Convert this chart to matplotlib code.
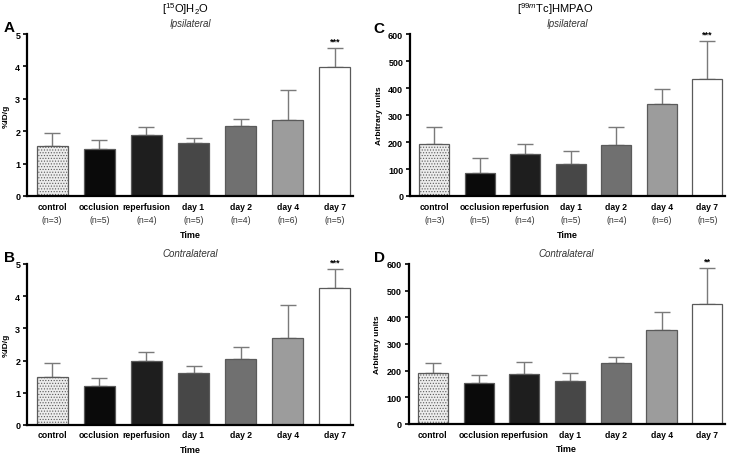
import matplotlib
matplotlib.use("Agg")
import matplotlib.pyplot as plt
from matplotlib import transforms

plt.rcParams['font.family'] = ['Liberation Sans', 'DejaVu Sans']
plt.rcParams['mathtext.fontset'] = 'custom'
plt.rcParams['mathtext.rm'] = 'Liberation Sans'
plt.rcParams['mathtext.it'] = 'Liberation Sans:italic'
plt.rcParams['hatch.color'] = '#a8a8a8'
plt.rcParams['hatch.linewidth'] = 0.5

categories = ['control', 'occlusion', 'reperfusion', 'day 1', 'day 2', 'day 4', 'day 7']
n_labels = ['(n=3)', '(n=5)', '(n=4)', '(n=5)', '(n=4)', '(n=6)', '(n=5)']

# means and SD (upper error only)
water_ipsi = [1.53, 1.45, 1.89, 1.63, 2.16, 2.35, 3.99]
water_ipsi_err = [0.43, 0.28, 0.25, 0.15, 0.23, 0.91, 0.58]
water_contra = [1.48, 1.21, 1.99, 1.62, 2.05, 2.70, 4.25]
water_contra_err = [0.43, 0.25, 0.28, 0.22, 0.38, 1.03, 0.60]
hmpao_ipsi = [193, 84, 156, 118, 188, 342, 434]
hmpao_ipsi_err = [64, 55, 36, 47, 68, 54, 141]
hmpao_contra = [192, 152, 188, 163, 229, 352, 450]
hmpao_contra_err = [36, 30, 45, 29, 23, 68, 135]

bar_colors = ['#ececec', '#0a0a0a', '#1e1e1e', '#474747', '#707070', '#9c9c9c', '#ffffff']
hatches = ['......', '', '', '', '', '', '']


def draw_panel(ax, vals, errs, ymax, ystep, ylabel, side, stars, show_n):
    x = list(range(len(categories)))
    bars = ax.bar(x, vals, width=0.66, color=bar_colors, edgecolor='#5a5a5a', linewidth=0.9, zorder=2)
    for b, h in zip(bars, hatches):
        b.set_hatch(h)
    ax.errorbar(x, vals, yerr=[[0] * len(vals), errs], fmt='none', ecolor='#7a7a7a',
                elinewidth=1.0, capsize=6, capthick=1.0, zorder=1)
    ax.set_xlim(-0.53, 6.38)
    ax.set_ylim(0, ymax)
    ax.set_yticks([i * ystep for i in range(int(ymax / ystep) + 1)])
    for s in ['top', 'right']:
        ax.spines[s].set_visible(False)
    for s in ['left', 'bottom']:
        ax.spines[s].set_linewidth(1.6)
    ax.tick_params(axis='y', labelsize=6.5, width=1.2, length=3, pad=2)
    ax.tick_params(axis='x', labelsize=6.2, length=0, pad=4)
    ax.set_xticks(x)
    ax.set_xticklabels(categories, fontweight='bold')
    for lab in ax.get_yticklabels():
        lab.set_fontweight('bold')
    ax.set_ylabel(ylabel, fontsize=6, fontweight='bold', labelpad=4)
    ax.set_xlabel('Time', fontsize=6.5, fontweight='bold', labelpad=4 if not show_n else 14)
    ax.text(0.5, 1.035, side, transform=ax.transAxes, ha='center', va='bottom',
            fontsize=7, style='italic', color='#333333')
    ax.text(6, vals[6] + errs[6] + ymax * 0.015, stars, ha='center', va='bottom',
            fontsize=6.5, fontweight='bold')
    if show_n:
        trans = transforms.blended_transform_factory(ax.transData, ax.transAxes)
        for xi, nl in zip(x, n_labels):
            ax.text(xi, -0.115, nl, transform=trans, ha='center', va='top', fontsize=6.2, color='#333333')


fig = plt.figure(figsize=(7.35, 4.56), dpi=100)
axA = fig.add_axes([0.037, 0.568, 0.443, 0.355])
axC = fig.add_axes([0.558, 0.568, 0.428, 0.355])
axB = fig.add_axes([0.037, 0.066, 0.443, 0.353])
axD = fig.add_axes([0.556, 0.068, 0.430, 0.351])

draw_panel(axA, water_ipsi, water_ipsi_err, 5, 1, '%ID/g', 'Ipsilateral', '***', True)
draw_panel(axC, hmpao_ipsi, hmpao_ipsi_err, 600, 100, 'Arbitrary units', 'Ipsilateral', '***', True)
draw_panel(axB, water_contra, water_contra_err, 5, 1, '%ID/g', 'Contralateral', '***', False)
draw_panel(axD, hmpao_contra, hmpao_contra_err, 600, 100, 'Arbitrary units', 'Contralateral', '**', False)

fig.text(185 / 735, 1 - 9 / 456, r'[$^{15}$O]H$_2$O', ha='center', va='center', fontsize=8)
fig.text(555 / 735, 1 - 9 / 456, r'[$^{99m}$Tc]HMPAO', ha='center', va='center', fontsize=8)
for lbl, px, py in [('A', 4, 28), ('C', 373, 29), ('B', 4, 258), ('D', 374, 258)]:
    fig.text(px / 735, 1 - py / 456, lbl, ha='left', va='center', fontsize=11, fontweight='bold')

fig.savefig('out.png', dpi=100)
